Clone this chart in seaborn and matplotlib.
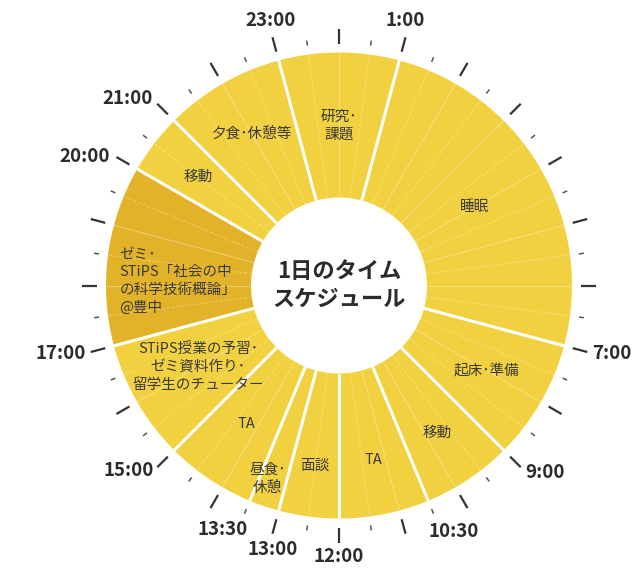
import numpy as np
import matplotlib
matplotlib.use("Agg")
import matplotlib.pyplot as plt
import seaborn as sns

# schedule (hours on a 24h clock, 0:00 at top, clockwise)
seg_start = [23, 1, 7, 9, 10.5, 12, 13, 13.5, 15, 17, 20, 21]
seg_end = [1, 7, 9, 10.5, 12, 13, 13.5, 15, 17, 20, 21, 23]
seg_labels = [
    "研究･\n課題", "睡眠", "起床･準備", "移動", "TA", "面談", "昼食･\n休憩", "TA",
    "STiPS授業の予習･\nゼミ資料作り･\n留学生のチューター",
    "ゼミ･\nSTiPS「社会の中\nの科学技術概論」\n@豊中",
    "移動", "夕食･休憩等",
]
highlight = [False] * 9 + [True] + [False] * 2
tick_labels = ["23:00", "1:00", "7:00", "9:00", "10:30", "12:00", "13:00",
               "13:30", "15:00", "17:00", "20:00", "21:00"]

# label placement (hour, radius in px)
tick_label_hour = [23.04, 0.93, 6.93, 8.82, 10.33, 12, 12.94, 13.7, 15.25, 17.08, 19.8, 20.77]
tick_label_r = [274, 273.5, 281, 278, 271, 271.5, 272, 270, 280, 287, 285, 282]
label_hour = [0, 4, 8, 9.75, 11.25, 12.5, 13.35, 14.25, 16, 18.1, 20.5, 22]
label_r = [160, 156, 170, 177, 178, 182, 206, 167, 163, 161, 178, 174]

sns.set_theme(style="white")
plt.rcParams["font.family"] = ["Noto Sans CJK JP", "DejaVu Sans"]

YELLOW = "#F1D13F"
DARK = "#E2B328"
R_IN, R_OUT = 88, 233

def th(h):
    return h / 24 * 2 * np.pi

fig = plt.figure(figsize=(6.36, 5.68), dpi=100)
ax = fig.add_axes([(339 - 300) / 636, (282.5 - 300) / 568, 600 / 636, 600 / 568],
                  projection="polar")
ax.set_theta_zero_location("N")
ax.set_theta_direction(-1)
ax.set_ylim(0, 300)
ax.set_axis_off()

widths = [((e - s) % 24) for s, e in zip(seg_start, seg_end)]
colors = [DARK if h else YELLOW for h in highlight]
ax.bar([th(s) for s in seg_start], R_OUT - R_IN, width=[th(w) for w in widths],
       bottom=R_IN, align="edge", color=colors, linewidth=0)

# thin half-hour guide lines inside the ring
for k in range(48):
    h = k / 2
    ls = "-" if k % 2 == 0 else (0, (3, 2))
    ax.plot([th(h), th(h)], [R_IN, R_OUT], color="white", alpha=0.35, lw=0.7, ls=ls)

# segment borders
for s in seg_start:
    ax.plot([th(s), th(s)], [R_IN, R_OUT], color="white", lw=2.2, solid_capstyle="butt")

# outer clock ticks
for k in range(48):
    h = k / 2
    if k % 2 == 0:
        ax.plot([th(h), th(h)], [242, 257], color="#333333", lw=1.6, solid_capstyle="butt")
    else:
        ax.plot([th(h), th(h)], [242, 247], color="#555555", lw=1.1, solid_capstyle="butt")

for lab, h, r in zip(tick_labels, tick_label_hour, tick_label_r):
    ax.text(th(h), r, lab, ha="center", va="center", fontsize=13.5,
            fontweight="bold", color="#2b2b2b")

for lab, h, r in zip(seg_labels, label_hour, label_r):
    ax.text(th(h), r, lab, ha="center", va="center", fontsize=10.5,
            color="#3a3a3a", multialignment="left" if "@" in lab else "center",
            linespacing=1.35)

ax.text(0, 0, "1日のタイム\nスケジュール", ha="center", va="center", fontsize=16,
        fontweight="bold", color="#2b2b2b", linespacing=1.3)

fig.savefig("out.png", dpi=100)
